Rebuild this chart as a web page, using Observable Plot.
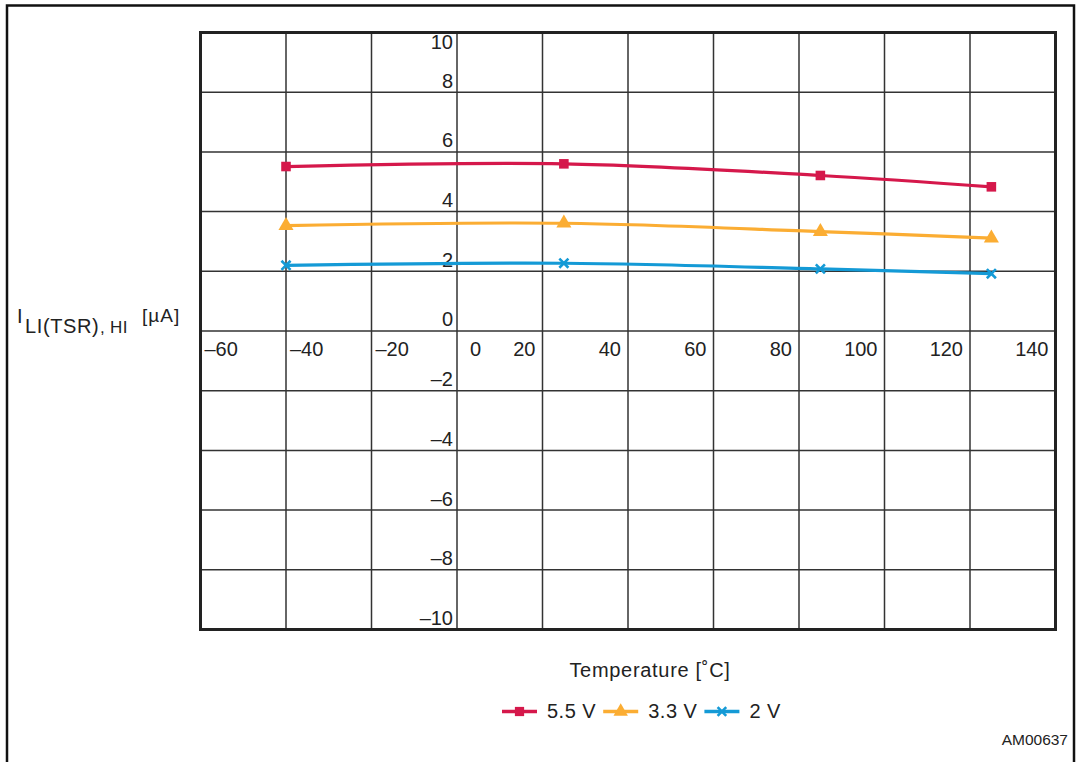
<!DOCTYPE html>
<html><head><meta charset="utf-8">
<script src="https://cdn.jsdelivr.net/npm/d3@7"></script>
<script src="https://cdn.jsdelivr.net/npm/@observablehq/plot@0.6"></script>
<style>
html,body{margin:0;padding:0;background:#fff;}
#chart{position:relative;width:1077px;height:762px;overflow:hidden;}
</style></head><body><div id="chart"></div>
<script>
// ---- data ----
const temperatures = [-40, 25, 85, 125];
const v55 = [5.51, 5.60, 5.21, 4.83];
const v33 = [3.53, 3.61, 3.33, 3.11];
const v20 = [2.20, 2.27, 2.08, 1.92];
const seriesNames = ["5.5 V", "3.3 V", "2 V"];
const seriesColors = ["#d5184b", "#fbad33", "#149ad6"];
const seriesSymbols = ["square", "triangle", "times"];
const xTicks = [-60, -40, -20, 0, 20, 40, 60, 80, 100, 120, 140];
const yTicks = [-10, -8, -6, -4, -2, 0, 2, 4, 6, 8, 10];
const xTitle = "Temperature [˚C]";
const sourceId = "AM00637";

const seriesValues = [v55, v33, v20];
const rows = [];
seriesNames.forEach((name, i) => {
  temperatures.forEach((t, j) => rows.push({series: name, t, v: seriesValues[i][j]}));
});

const FONT = "'Liberation Sans', Arial, Helvetica, sans-serif";
const fmt = d => d < 0 ? "\u2013" + Math.abs(d) : String(d);

const marks = [
  Plot.ruleX(xTicks, {stroke: "#333", strokeWidth: 1.5}),
  Plot.ruleY(yTicks, {stroke: "#333", strokeWidth: 1.5}),
  Plot.frame({stroke: "#222", strokeWidth: 3}),
  // y tick labels
  Plot.text(yTicks.filter(d => d < 10), {x: 0, y: d => d, text: fmt, textAnchor: "end", dx: -4, dy: -11, fontSize: 20, fill: "#222"}),
  Plot.text(yTicks.filter(d => d === 10), {x: 0, y: d => d, text: fmt, textAnchor: "end", dx: -4, dy: 10.5, fontSize: 20, fill: "#222"}),
  // x tick labels
  Plot.text(xTicks.filter(d => d < 0), {x: d => d, y: 0, text: fmt, textAnchor: "start", dx: 4, dy: 19, fontSize: 20, fill: "#222"}),
  Plot.text(xTicks.filter(d => d === 0), {x: d => d, y: 0, text: fmt, textAnchor: "start", dx: 13, dy: 19, fontSize: 20, fill: "#222"}),
  Plot.text(xTicks.filter(d => d > 0), {x: d => d, y: 0, text: fmt, textAnchor: "end", dx: -7, dy: 19, fontSize: 20, fill: "#222"})
];
seriesNames.forEach((name, i) => {
  const data = rows.filter(r => r.series === name);
  marks.push(Plot.line(data, {x: "t", y: "v", stroke: seriesColors[i], strokeWidth: 3.2, curve: "catmull-rom"}));
  const sym = seriesSymbols[i];
  if (sym === "times") {
    marks.push(Plot.dot(data, {x: "t", y: "v", symbol: sym, r: 4.2, stroke: seriesColors[i], strokeWidth: 2.6}));
  } else {
    marks.push(Plot.dot(data, {x: "t", y: "v", symbol: sym, r: sym === "triangle" ? 5.6 : 5.4, fill: seriesColors[i], stroke: "none"}));
  }
});

const plot = Plot.plot({
  width: 1077,
  height: 762,
  marginLeft: 200,
  marginRight: 22,
  marginTop: 32,
  marginBottom: 133,
  x: {domain: [-60, 140], axis: null},
  y: {domain: [-10, 10], axis: null},
  style: {fontFamily: FONT, fontSize: "20px", color: "#222", background: "white", overflow: "visible"},
  marks
});
document.getElementById("chart").appendChild(plot);

// ---- extra annotations on the same svg ----
const svg = d3.select(plot);
// outer frame
svg.insert("rect", ":first-child")
  .attr("x", 7).attr("y", 5.5).attr("width", 1067).attr("height", 820)
  .attr("fill", "none").attr("stroke", "#111").attr("stroke-width", 2.5);

// y-axis title
const yt = svg.append("text").attr("font-family", FONT).attr("fill", "#222").attr("text-anchor", "start");
yt.append("tspan").attr("x", 17).attr("y", 323).attr("font-size", 20).text("I");
yt.append("tspan").attr("x", 25).attr("y", 333).attr("font-size", 20).attr("letter-spacing", 0.6).text("LI(TSR)");
yt.append("tspan").attr("x", 100).attr("y", 333).attr("font-size", 17).text(",");
yt.append("tspan").attr("x", 110).attr("y", 333).attr("font-size", 17).attr("letter-spacing", 0.5).text("HI");
yt.append("tspan").attr("x", 142).attr("y", 322).attr("font-size", 19).attr("letter-spacing", 1).text("[µA]");

// x-axis title
svg.append("text").attr("font-family", FONT).attr("font-size", 20).attr("fill", "#222")
  .attr("letter-spacing", 0.7)
  .attr("x", 650).attr("y", 677).attr("text-anchor", "middle").text(xTitle);

// source id
svg.append("text").attr("font-family", FONT).attr("font-size", 15.5).attr("fill", "#222")
  .attr("x", 1068).attr("y", 745).attr("text-anchor", "end").text(sourceId);

// legend
const symMap = {square: d3.symbolSquare, triangle: d3.symbolTriangle, times: d3.symbolTimes};
let lx = 502;
const ly = 711.5;
seriesNames.forEach((name, i) => {
  const g = svg.append("g");
  g.append("line").attr("x1", lx).attr("x2", lx + 35).attr("y1", ly).attr("y2", ly)
    .attr("stroke", seriesColors[i]).attr("stroke-width", 3.6);
  const sym = seriesSymbols[i];
  const size = sym === "times" ? 50 : (sym === "triangle" ? 90 : 85);
  const p = g.append("path").attr("d", d3.symbol(symMap[sym], size)())
    .attr("transform", `translate(${lx + 17.5},${ly})`);
  if (sym === "times") p.attr("fill", "none").attr("stroke", seriesColors[i]).attr("stroke-width", 2.6);
  else p.attr("fill", seriesColors[i]);
  const t = g.append("text").attr("font-family", FONT).attr("font-size", 20).attr("fill", "#222")
    .attr("letter-spacing", 0.5).attr("text-anchor", "start")
    .attr("x", lx + 45).attr("y", 718).text(name);
  lx = lx + 45 + t.node().getComputedTextLength() + 7;
});
</script>
</body></html>
